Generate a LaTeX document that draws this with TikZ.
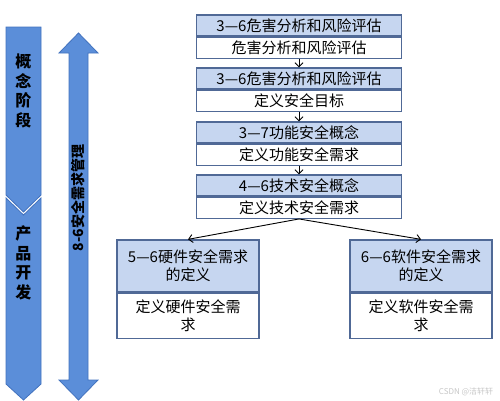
\documentclass[tikz,border=0pt]{standalone}
\usepackage{fontspec}
\setmainfont{Noto Sans CJK SC}
\usetikzlibrary{arrows.meta}
\definecolor{stageblue}{RGB}{91,142,217}
\definecolor{stageline}{RGB}{66,114,190}
\definecolor{headfill}{RGB}{198,214,240}
\definecolor{boxline}{RGB}{80,105,150}
\tikzset{
  head/.style={draw=boxline,fill=headfill,line width=1.3pt,minimum width=205pt,
    minimum height=21pt,inner sep=0pt,font=\fontsize{15}{17}\selectfont},
  body/.style={head,fill=white},
  wide/.style={minimum width=142pt,align=center,font=\fontsize{15}{18}\selectfont},
  flow/.style={line width=0.9pt,-{Straight Barb[length=4pt,width=8pt]}},
  stage/.style={draw=stageline,fill=stageblue,line width=0.8pt},
  label/.style={font=\fontsize{16}{19.5}\selectfont\bfseries,align=center,inner sep=0pt}
}
\begin{document}
\begin{tikzpicture}[x=1pt,y=-1pt]
    \useasboundingbox (0,0) rectangle (500,400);
    % stages on the left
    \draw[stage] (6,27)--(41,27)--(41,195)--(23.5,212)--(6,195)--cycle;
    \draw[stage] (6,198)--(23.5,215)--(41,198)--(41,384)--(23.5,400)--(6,384)--cycle;
    \node[label] (concept) at (23.5,91) {\baselineskip=17.5pt 概\\念\\阶\\段};
    \node[label] (develop) at (23.5,263) {产\\品\\开\\发};
    % safety requirements management
    \draw[stage] (78.5,33)--(98,53)--(88,53)--(88,380)--(98,380)--(78.5,400)
        --(59,380)--(69,380)--(69,53)--(59,53)--cycle;
    \node[label,rotate=90,font=\fontsize{14}{16}\selectfont\bfseries] (manage) at (78.5,198) {8-6安全需求管理};
    % boxes
    \node[head] (h1) at (299,25.5) {3—6危害分析和风险评估};
    \node[body,anchor=north] (b1) at (h1.south) {危害分析和风险评估};
    \node[head] (h2) at (299,78.5) {3—6危害分析和风险评估};
    \node[body,anchor=north] (b2) at (h2.south) {定义安全目标};
    \node[head] (h3) at (299,132.5) {3—7功能安全概念};
    \node[body,anchor=north] (b3) at (h3.south) {定义功能安全需求};
    \node[head] (h4) at (299,185.5) {4—6技术安全概念};
    \node[body,anchor=north] (b4) at (h4.south) {定义技术安全需求};
    \node[head,wide,minimum height=52pt] (hL) at (188,266) {5—6硬件安全需求\\的定义};
    \node[body,wide,minimum height=45pt,anchor=north] (bL) at (hL.south) {定义硬件安全需\\求};
    \node[head,wide,minimum height=52pt] (hR) at (421,266) {6—6软件安全需求\\的定义};
    \node[body,wide,minimum height=45pt,anchor=north] (bR) at (hR.south) {定义软件安全需\\求};
    \draw[flow] (b1)--(h2);
    \draw[flow] (b2)--(h3);
    \draw[flow] (b3)--(h4);
    \draw[flow] (b4.south)--(hL.north);
    \draw[flow] (b4.south)--(hR.north);
    \node[text=gray!45,font=\fontsize{8}{9}\selectfont] (mark) at (466,392) {CSDN @洁轩轩};
\end{tikzpicture}
\end{document}
